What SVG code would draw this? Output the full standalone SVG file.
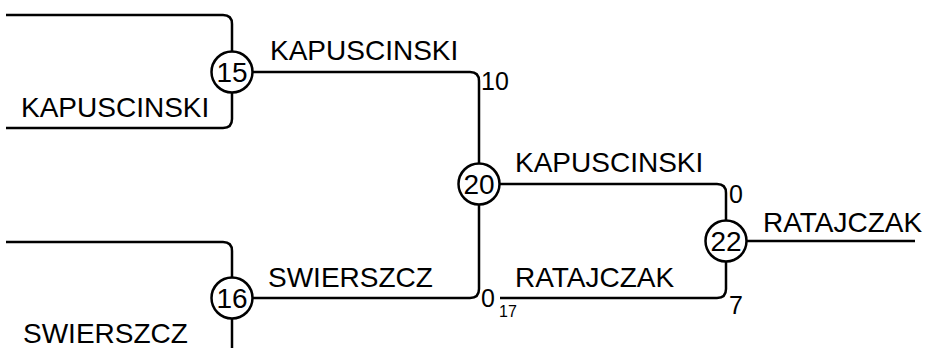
<svg xmlns="http://www.w3.org/2000/svg" width="931" height="348" viewBox="0 0 931 348">
<style>
.c{fill:none;stroke:#000;stroke-width:2.5}
.n{fill:#fff;stroke:#000;stroke-width:2.5}
.t{font-family:"Liberation Sans",Arial,sans-serif;font-size:28px;fill:#000}
.nt{font-family:"Liberation Sans",Arial,sans-serif;font-size:28px;fill:#000;text-anchor:middle}
.e{font-family:"Liberation Sans",Arial,sans-serif;font-size:25px;fill:#000}
.s{font-family:"Liberation Sans",Arial,sans-serif;font-size:16px;fill:#000}
</style>
<g id="connectors">
<path class="c" d="M6,15 H223 Q232,15 232,24 V72"/>
<path class="c" d="M6,128 H223 Q232,128 232,119 V72"/>
<path class="c" d="M6,242 H223 Q232,242 232,251 V298"/>
<path class="c" d="M232,298 V348"/>
<path class="c" d="M232,72 H470 Q479,72 479,81 V184"/>
<path class="c" d="M232,298 H470 Q479,298 479,289 V184"/>
<path class="c" d="M479,184 H717 Q726,184 726,193 V241"/>
<path class="c" d="M500,298 H717 Q726,298 726,289 V241"/>
<path class="c" d="M726,241 H915"/>
</g>
<g id="labels">
<text class="t" x="270" y="60">KAPUSCINSKI</text>
<text class="t" x="21" y="116.5">KAPUSCINSKI</text>
<text class="t" x="515" y="171.5">KAPUSCINSKI</text>
<text class="t" x="268" y="287">SWIERSZCZ</text>
<text class="t" x="23" y="343">SWIERSZCZ</text>
<text class="t" x="515" y="287">RATAJCZAK</text>
<text class="t" x="763" y="231.5">RATAJCZAK</text>
<text class="e" x="481" y="90">10</text>
<text class="e" x="729" y="203">0</text>
<text class="e" x="729" y="314">7</text>
<text class="e" x="481" y="307">0</text>
<text class="s" x="499" y="317">17</text>
</g>
<g id="node15"><circle class="n" cx="232" cy="72" r="20.5"/><text class="nt" x="232" y="82">15</text></g>
<g id="node16"><circle class="n" cx="232" cy="298" r="20.5"/><text class="nt" x="232" y="308">16</text></g>
<g id="node20"><circle class="n" cx="479" cy="184" r="20.5"/><text class="nt" x="479" y="194">20</text></g>
<g id="node22"><circle class="n" cx="726" cy="241" r="20.5"/><text class="nt" x="726" y="251">22</text></g>
</svg>
